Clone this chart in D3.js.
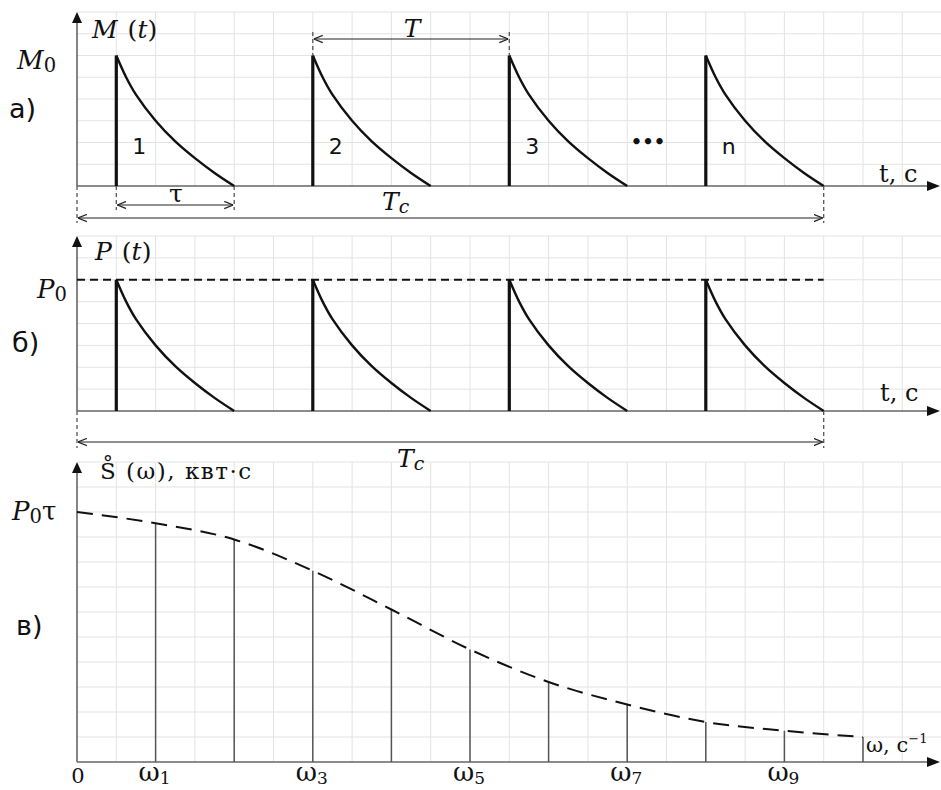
<!DOCTYPE html>
<html>
<head>
<meta charset="utf-8">
<script src="https://cdn.jsdelivr.net/npm/d3@7"></script>
<style>
  body { margin: 0; background: #fff; }
  svg { display: block; }
</style>
</head>
<body>
<div id="chart"></div>
<script>
// pulse positions (grid units) and their labels
const pulseStarts = [1, 6, 11, 16]
const pulseLabels = ['1', '2', '3', 'n']
// decay shape of one pulse (grid units)
const decayT = [0, 0.25, 0.5, 1, 1.5, 2, 2.5, 3]
const decayVal = [6, 5.0, 4.2, 3.0, 2.05, 1.28, 0.6, 0]
// spectrum envelope, read at every second grid line
const omegaPos = [0, 2, 4, 6, 8, 10, 12, 14, 16, 18, 20]
const spectrum = [10, 9.55, 8.9, 7.65, 6.1, 4.5, 3.2, 2.3, 1.6, 1.25, 1.0]
const omegaTickPos = [2, 6, 10, 14, 18]
const omegaTickSub = ['1', '3', '5', '7', '9']

const w = 941
const h = 790
const SERIF = "'DejaVu Serif', 'Liberation Serif', serif"
const SANS = "'DejaVu Sans', 'Noto Sans', sans-serif"

const x = d3.scaleLinear().domain([0, 22]).range([77, 941.6])

const panels = [
  { y: d3.scaleLinear().domain([0, 8]).range([186, 12]), rows: 8 },
  { y: d3.scaleLinear().domain([0, 8]).range([411, 236]), rows: 8 },
  { y: d3.scaleLinear().domain([0, 12]).range([762, 462]), rows: 12 }
]

const svg = d3.select('#chart')
  .append('svg')
  .attr('width', w)
  .attr('height', h)

const defs = svg.append('defs')
defs.append('marker')
  .attr('id', 'dimArrow')
  .attr('viewBox', '0 0 10 10')
  .attr('refX', 10)
  .attr('refY', 5)
  .attr('markerWidth', 9)
  .attr('markerHeight', 9)
  .attr('markerUnits', 'userSpaceOnUse')
  .attr('orient', 'auto-start-reverse')
  .append('path')
  .attr('d', 'M0,1 L10,5 L0,9')
  .attr('fill', 'none')
  .attr('stroke', '#222')
  .attr('stroke-width', 1.4)

const gridColor = '#e3e3e3'
const axisColor = '#666'

// grids + axes
panels.forEach(p => {
  const g = svg.append('g')
  const [y0, y1] = p.y.range()
  g.selectAll('line.v')
    .data(d3.range(1, 23))
    .enter()
    .append('line')
    .attr('x1', d => x(d)).attr('x2', d => x(d))
    .attr('y1', y1).attr('y2', y0)
    .attr('stroke', gridColor)
    .attr('stroke-width', 1)
  g.selectAll('line.h')
    .data(d3.range(1, p.rows + 1))
    .enter()
    .append('line')
    .attr('x1', x(0)).attr('x2', w)
    .attr('y1', d => p.y(d)).attr('y2', d => p.y(d))
    .attr('stroke', gridColor)
    .attr('stroke-width', 1)

  // y axis
  g.append('line')
    .attr('x1', x(0)).attr('x2', x(0))
    .attr('y1', y0).attr('y2', y1 + 6)
    .attr('stroke', axisColor).attr('stroke-width', 1.6)
  g.append('path')
    .attr('d', `M${x(0)},${y1} L${x(0) - 5},${y1 + 11} L${x(0) + 5},${y1 + 11} Z`)
    .attr('fill', '#111')
  // x axis
  g.append('line')
    .attr('x1', x(0)).attr('x2', w - 8)
    .attr('y1', y0).attr('y2', y0)
    .attr('stroke', axisColor).attr('stroke-width', 1.6)
  g.append('path')
    .attr('d', `M${w - 1},${y0} L${w - 14},${y0 - 5} L${w - 14},${y0 + 5} Z`)
    .attr('fill', '#111')
})

const decayLine = (yScale, start) => d3.line()
  .x(d => x(start + d[0]))
  .y(d => yScale(d[1]))
  .curve(d3.curveCatmullRom.alpha(0.5))(decayT.map((t, i) => [t, decayVal[i]]))

// panels a) and б): pulses
panels.slice(0, 2).forEach(p => {
  const g = svg.append('g')
  g.selectAll('line.pulse')
    .data(pulseStarts)
    .enter()
    .append('line')
    .attr('x1', d => x(d)).attr('x2', d => x(d))
    .attr('y1', p.y(0)).attr('y2', p.y(decayVal[0]))
    .attr('stroke', '#111')
    .attr('stroke-width', 3.2)
  g.selectAll('path.decay')
    .data(pulseStarts)
    .enter()
    .append('path')
    .attr('d', d => decayLine(p.y, d))
    .attr('fill', 'none')
    .attr('stroke', '#111')
    .attr('stroke-width', 2.4)
})

// P0 dashed level
svg.append('line')
  .attr('x1', x(0)).attr('x2', x(19))
  .attr('y1', panels[1].y(6)).attr('y2', panels[1].y(6))
  .attr('stroke', '#111')
  .attr('stroke-width', 2)
  .attr('stroke-dasharray', '8,5')

// dimension lines
const dimLine = (xa, xb, y) => {
  svg.append('line')
    .attr('x1', xa + 1).attr('x2', xb - 1)
    .attr('y1', y).attr('y2', y)
    .attr('stroke', '#222')
    .attr('stroke-width', 1.2)
    .attr('marker-start', 'url(#dimArrow)')
    .attr('marker-end', 'url(#dimArrow)')
}
const extLine = (xv, ya, yb) => {
  svg.append('line')
    .attr('x1', xv).attr('x2', xv)
    .attr('y1', ya).attr('y2', yb)
    .attr('stroke', '#555')
    .attr('stroke-width', 1.3)
    .attr('stroke-dasharray', '4,3')
}

const ya = panels[0].y
const yb = panels[1].y
extLine(x(1), ya(0), 210)
extLine(x(4), ya(0), 210)
dimLine(x(1), x(4), 205)
extLine(x(0), ya(0), 223)
extLine(x(19), ya(0), 223)
dimLine(x(0), x(19), 218)
extLine(x(6), 32, ya(6))
extLine(x(11), 32, ya(6))
dimLine(x(6), x(11), 39)
extLine(x(0), yb(0), 448)
extLine(x(19), yb(0), 448)
dimLine(x(0), x(19), 442)

// spectrum panel
const yc = panels[2].y
svg.selectAll('line.spec')
  .data(omegaPos.slice(1))
  .enter()
  .append('line')
  .attr('x1', d => x(d)).attr('x2', d => x(d))
  .attr('y1', yc(0))
  .attr('y2', (d, i) => yc(spectrum[i + 1]))
  .attr('stroke', '#555')
  .attr('stroke-width', 1.5)

svg.append('path')
  .attr('d', d3.line()
    .x(d => x(d[0]))
    .y(d => yc(d[1]))
    .curve(d3.curveMonotoneX)(omegaPos.map((o, i) => [o, spectrum[i]])))
  .attr('fill', 'none')
  .attr('stroke', '#111')
  .attr('stroke-width', 2)
  .attr('stroke-dasharray', '16,9')

// text helpers
const txt = (xv, yv, fam, size, style) => svg.append('text')
  .attr('x', xv).attr('y', yv)
  .attr('font-family', fam)
  .attr('font-size', size)
  .attr('font-style', style || 'normal')
  .attr('fill', '#111')

const funcLabel = (xv, yv, letter) => {
  const t = txt(xv, yv, SERIF, 25, 'italic')
  t.append('tspan').text(letter)
  t.append('tspan').attr('dx', 10).attr('font-style', 'normal').text('(')
  t.append('tspan').text('t')
  t.append('tspan').attr('font-style', 'normal').text(')')
}
const subLabel = (xv, yv, letter, sub, size, subStyle) => {
  const t = txt(xv, yv, SERIF, size, 'italic')
  t.append('tspan').text(letter)
  t.append('tspan').attr('font-style', subStyle || 'normal').attr('font-size', size * 0.75).attr('dy', 3).text(sub)
  return t
}

// panel a) labels
funcLabel(92, 38, 'M')
subLabel(17, 69, 'M', '0', 26)
txt(9, 118, SANS, 27).text('а)')

svg.selectAll('text.pl')
  .data(pulseStarts)
  .enter()
  .append('text')
  .attr('font-family', SANS)
  .attr('x', d => x(d) + 16)
  .attr('y', 154)
  .attr('font-size', 22)
  .attr('fill', '#111')
  .text((d, i) => pulseLabels[i])
txt(648, 148, SANS, 18).attr('font-weight', 'bold').attr('text-anchor', 'middle').text('•••')

txt(176, 202, SERIF, 25).attr('text-anchor', 'middle').text('τ')
subLabel(382, 210, 'T', 'c', 25, 'italic')
txt(412, 37, SERIF, 25, 'italic').attr('text-anchor', 'middle').text('T')
txt(879, 182, SERIF, 24).text('t, c')

// panel б) labels
funcLabel(95, 260, 'P')
subLabel(37, 298, 'P', '0', 26)
txt(12, 352, SANS, 27).text('б)')
subLabel(397, 467, 'T', 'c', 25, 'italic')
txt(880, 401, SERIF, 24).text('t, c')

// panel в) labels
txt(100, 479, SERIF, 23).attr('letter-spacing', 1.5).text('S\u030A (ω), квт·с')
const p0t = subLabel(12, 520, 'P', '0', 26)
p0t.append('tspan').attr('font-style', 'normal').attr('font-size', 26).attr('dy', -3).text('τ')
txt(16, 635, SANS, 27).text('в)')
txt(78, 783, SERIF, 21).attr('text-anchor', 'middle').text('0')

svg.selectAll('text.om')
  .data(omegaTickPos)
  .enter()
  .append('text')
  .attr('font-family', SERIF)
  .attr('x', d => x(d) - 17)
  .attr('y', 781)
  .attr('font-size', 26)
  .attr('fill', '#111')
  .each(function (d, i) {
    const t = d3.select(this)
    t.append('tspan').text('ω')
    t.append('tspan').attr('font-size', 17).attr('dy', 3).text(omegaTickSub[i])
  })

const wc = txt(866, 752, SERIF, 21)
wc.append('tspan').text('ω, c')
wc.append('tspan').attr('font-size', 13).attr('dy', -9).text('−1')
</script>
</body>
</html>
